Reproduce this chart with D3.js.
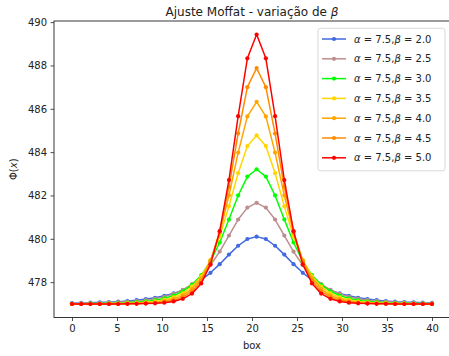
<!DOCTYPE html>
<html>
<head>
<meta charset="utf-8">
<script src="https://cdn.jsdelivr.net/npm/d3@7"></script>
<style>
  body { margin: 0; background: #fff; }
  svg { display: block; font-family: "DejaVu Sans", sans-serif; }
</style>
</head>
<body>
<svg id="chart" width="449" height="356"></svg>
<script>
// ---------- data ----------
const xValues = [0, 1.026, 2.051, 3.077, 4.103, 5.128, 6.154, 7.179, 8.205, 9.231,
  10.256, 11.282, 12.308, 13.333, 14.359, 15.385, 16.410, 17.436, 18.462, 19.487,
  20.513, 21.538, 22.564, 23.590, 24.615, 25.641, 26.667, 27.692, 28.718, 29.744,
  30.769, 31.795, 32.821, 33.846, 34.872, 35.897, 36.923, 37.949, 38.974, 40];

const betaLabels = ["2.0", "2.5", "3.0", "3.5", "4.0", "4.5", "5.0"];
const alphaLabel = "7.5";
const seriesColors = ["#4169E1", "#BC8F8F", "#00FF00", "#FFD700", "#FFA500", "#FF8C00", "#FF0000"];

const beta20 = [477.03, 477.04, 477.05, 477.07, 477.08, 477.10, 477.13, 477.17, 477.22, 477.28,
  477.37, 477.48, 477.63, 477.84, 478.10, 478.43, 478.83, 479.27, 479.68, 479.99,
  480.10, 479.99, 479.68, 479.27, 478.83, 478.43, 478.10, 477.84, 477.63, 477.48,
  477.37, 477.28, 477.22, 477.17, 477.13, 477.10, 477.08, 477.07, 477.05, 477.04];
const beta25 = [477.01, 477.02, 477.03, 477.03, 477.05, 477.07, 477.09, 477.12, 477.17, 477.23,
  477.32, 477.46, 477.64, 477.91, 478.28, 478.78, 479.41, 480.15, 480.89, 481.44,
  481.66, 481.44, 480.89, 480.15, 479.41, 478.78, 478.28, 477.91, 477.64, 477.46,
  477.32, 477.23, 477.17, 477.12, 477.09, 477.07, 477.05, 477.03, 477.03, 477.02];
const beta30 = [477.00, 477.00, 477.01, 477.01, 477.02, 477.03, 477.05, 477.08, 477.11, 477.17,
  477.25, 477.38, 477.58, 477.87, 478.32, 478.96, 479.83, 480.89, 482.00, 482.87,
  483.21, 482.87, 482.00, 480.89, 479.83, 478.96, 478.32, 477.87, 477.58, 477.38,
  477.25, 477.17, 477.11, 477.08, 477.05, 477.03, 477.02, 477.01, 477.01, 477.00];
const beta35 = [476.99, 477.00, 477.00, 477.00, 477.01, 477.01, 477.03, 477.04, 477.07, 477.11,
  477.18, 477.30, 477.48, 477.79, 478.27, 479.02, 480.10, 481.50, 483.03, 484.28,
  484.77, 484.28, 483.03, 481.50, 480.10, 479.02, 478.27, 477.79, 477.48, 477.30,
  477.18, 477.11, 477.07, 477.04, 477.03, 477.01, 477.01, 477.00, 477.00, 477.00];
const beta40 = [476.99, 476.99, 476.99, 476.99, 477.00, 477.00, 477.01, 477.02, 477.04, 477.07,
  477.13, 477.22, 477.39, 477.68, 478.18, 479.00, 480.26, 482.00, 483.98, 485.65,
  486.32, 485.65, 483.98, 482.00, 480.26, 479.00, 478.18, 477.68, 477.39, 477.22,
  477.13, 477.07, 477.04, 477.02, 477.01, 477.00, 477.00, 476.99, 476.99, 476.99];
const beta45 = [476.99, 476.99, 476.99, 476.99, 476.99, 477.00, 477.00, 477.01, 477.02, 477.04,
  477.08, 477.16, 477.31, 477.57, 478.06, 478.93, 480.34, 482.40, 484.86, 487.00,
  487.88, 487.00, 484.86, 482.40, 480.34, 478.93, 478.06, 477.57, 477.31, 477.16,
  477.08, 477.04, 477.02, 477.01, 477.00, 477.00, 476.99, 476.99, 476.99, 476.99];
const beta50 = [476.99, 476.99, 476.99, 476.99, 476.99, 476.99, 477.00, 477.00, 477.01, 477.02,
  477.05, 477.11, 477.23, 477.47, 477.94, 478.82, 480.35, 482.71, 485.66, 488.33,
  489.43, 488.33, 485.66, 482.71, 480.35, 478.82, 477.94, 477.47, 477.23, 477.11,
  477.05, 477.02, 477.01, 477.00, 477.00, 476.99, 476.99, 476.99, 476.99, 476.99];

const xTicks = [0, 5, 10, 15, 20, 25, 30, 35, 40];
const yTicks = [478, 480, 482, 484, 486, 488, 490];

const titleText = "Ajuste Moffat - variação de ";
const xLabel = "box";

// ---------- build ----------
(function () {
const seriesValues = [beta20, beta25, beta30, beta35, beta40, beta45, beta50];
const series = seriesValues.map((vals, i) => ({
  beta: betaLabels[i],
  color: seriesColors[i],
  points: vals.map((v, j) => ({ x: xValues[j], y: v }))
}));

const svg = d3.select("#chart");
const pL = 54, pR = 450, pT = 21, pB = 317.5;

const xExt = d3.extent(xValues);
const xPad = (xExt[1] - xExt[0]) * 0.05;
const allY = seriesValues.flat();
const yExt = d3.extent(allY);
const yPad = (yExt[1] - yExt[0]) * 0.05;

const x = d3.scaleLinear().domain([xExt[0] - xPad, xExt[1] + xPad]).range([pL, pR]);
const y = d3.scaleLinear().domain([yExt[0] - yPad, yExt[1] + yPad]).range([pB, pT]);

const ink = "#222";

svg.append("clipPath").attr("id", "clip").append("rect")
  .attr("x", pL).attr("y", pT).attr("width", pR - pL).attr("height", pB - pT);

const plot = svg.append("g").attr("clip-path", "url(#clip)");
const line = d3.line().x(d => x(d.x)).y(d => y(d.y));

series.forEach(s => {
  const g = plot.append("g");
  g.append("path").datum(s.points)
    .attr("d", line).attr("fill", "none")
    .attr("stroke", s.color).attr("stroke-width", 1.5)
    .attr("stroke-linejoin", "round");
  g.selectAll("circle").data(s.points).join("circle")
    .attr("cx", d => x(d.x)).attr("cy", d => y(d.y))
    .attr("r", 2.1).attr("fill", s.color);
});

const xAxis = d3.axisBottom(x).tickValues(xTicks).tickSize(3.5).tickPadding(3.5).tickFormat(d3.format("d"));
const yAxis = d3.axisLeft(y).tickValues(yTicks).tickSize(3.5).tickPadding(3.5).tickFormat(d3.format("d"));

const gx = svg.append("g").attr("transform", `translate(0,${pB})`).call(xAxis);
const gy = svg.append("g").attr("transform", `translate(${pL},0)`).call(yAxis);
[gx, gy].forEach(g => {
  g.select(".domain").remove();
  g.selectAll(".tick line").attr("stroke", ink).attr("stroke-width", 0.8);
  g.selectAll(".tick text").attr("fill", ink).style("font-size", "10px")
    .style("font-family", "DejaVu Sans, sans-serif");
});

svg.append("rect").attr("x", pL).attr("y", pT)
  .attr("width", pR - pL).attr("height", pB - pT)
  .attr("fill", "none").attr("stroke", ink).attr("stroke-width", 0.9);

const t = svg.append("text").attr("x", (pL + pR) / 2).attr("y", 15.5)
  .attr("text-anchor", "middle").attr("fill", ink).style("font-size", "12px");
t.append("tspan").text(titleText);
t.append("tspan").style("font-style", "italic").text("β");

svg.append("text").attr("x", (pL + pR) / 2).attr("y", 348.5)
  .attr("text-anchor", "middle").attr("fill", ink).style("font-size", "10px").text(xLabel);

const yl = svg.append("text")
  .attr("transform", `translate(16.5,${(pT + pB) / 2}) rotate(-90)`)
  .attr("text-anchor", "middle").attr("fill", ink).style("font-size", "10px");
yl.append("tspan").text("Φ(");
yl.append("tspan").style("font-style", "italic").text("x");
yl.append("tspan").text(")");

const lgX = 318, lgY = 28.3, lgW = 127, lgH = 142.5, rowH = 19.8;
const lg = svg.append("g");
lg.append("rect").attr("x", lgX).attr("y", lgY).attr("width", lgW).attr("height", lgH)
  .attr("rx", 2.5).attr("fill", "#fff").attr("fill-opacity", 0.85)
  .attr("stroke", "#d4d4d4").attr("stroke-width", 0.9);
series.forEach((s, i) => {
  const cy = 39 + i * rowH;
  lg.append("line").attr("x1", 322).attr("x2", 346).attr("y1", cy).attr("y2", cy)
    .attr("stroke", s.color).attr("stroke-width", 1.5);
  lg.append("circle").attr("cx", 334).attr("cy", cy).attr("r", 2.1).attr("fill", s.color);
  const tx = lg.append("text").attr("x", 354).attr("y", cy + 3.6)
    .attr("fill", ink).style("font-size", "10px");
  tx.append("tspan").style("font-style", "italic").text("α");
  tx.append("tspan").text(" = " + alphaLabel + ",");
  tx.append("tspan").style("font-style", "italic").text("β");
  tx.append("tspan").text(" = " + s.beta);
});
})();
</script>
</body>
</html>
